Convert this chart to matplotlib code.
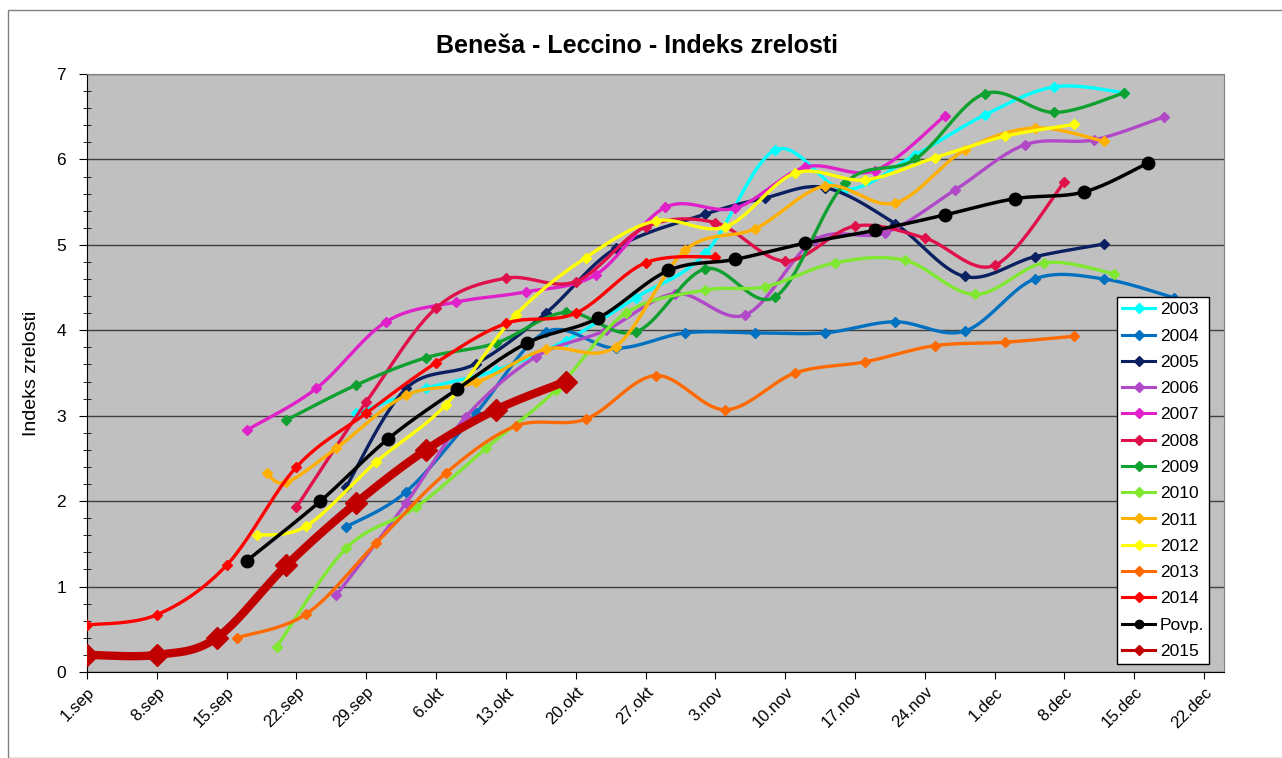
import numpy as np
import matplotlib
matplotlib.use("Agg")
import matplotlib.pyplot as plt
from matplotlib.lines import Line2D
from matplotlib.patches import Rectangle

plt.rcParams['font.family'] = ['Liberation Sans', 'DejaVu Sans']

# ---- data: x = days since 1 September, y = ripeness index ----
tick_labels = ["1.sep", "8.sep", "15.sep", "22.sep", "29.sep", "6.okt", "13.okt", "20.okt",
               "27.okt", "3.nov", "10.nov", "17.nov", "24.nov", "1.dec", "8.dec", "15.dec", "22.dec"]

x2003 = [27, 34, 41, 48, 55, 62, 69, 76, 83, 90, 97, 104]
y2003 = [3.03, 3.32, 3.53, 3.88, 4.38, 4.90, 6.11, 5.65, 6.05, 6.52, 6.85, 6.78]
x2004 = [26, 32, 39, 46, 53, 60, 67, 74, 81, 88, 95, 102, 109]
y2004 = [1.70, 2.11, 3.03, 3.98, 3.79, 3.97, 3.97, 3.97, 4.10, 3.99, 4.60, 4.60, 4.38]
x2005 = [26, 32, 39, 46, 53, 62, 68, 74, 81, 88, 95, 102]
y2005 = [2.17, 3.32, 3.61, 4.20, 4.96, 5.36, 5.55, 5.67, 5.25, 4.63, 4.86, 5.01]
x2006 = [25, 32, 38, 45, 52, 59, 66, 73, 80, 87, 94, 101, 108]
y2006 = [0.90, 1.98, 2.99, 3.69, 4.00, 4.43, 4.18, 5.06, 5.14, 5.64, 6.17, 6.23, 6.50]
x2007 = [16, 23, 30, 37, 44, 51, 58, 65, 72, 79, 86]
y2007 = [2.83, 3.32, 4.10, 4.33, 4.45, 4.65, 5.44, 5.43, 5.91, 5.87, 6.51]
x2008 = [21, 28, 35, 42, 49, 56, 63, 70, 77, 84, 91, 98]
y2008 = [1.93, 3.16, 4.26, 4.61, 4.57, 5.21, 5.26, 4.81, 5.22, 5.08, 4.76, 5.74]
x2009 = [20, 27, 34, 41, 48, 55, 62, 69, 76, 83, 90, 97, 104]
y2009 = [2.95, 3.36, 3.68, 3.85, 4.21, 3.98, 4.72, 4.39, 5.72, 6.00, 6.77, 6.55, 6.78]
x2010 = [19, 26, 33, 40, 47, 54, 62, 68, 75, 82, 89, 96, 103]
y2010 = [0.29, 1.45, 1.93, 2.62, 3.30, 4.20, 4.47, 4.51, 4.79, 4.82, 4.42, 4.79, 4.66]
x2011 = [18, 20, 25, 32, 39, 46, 53, 60, 67, 74, 81, 88, 95, 102]
y2011 = [2.33, 2.22, 2.62, 3.24, 3.39, 3.78, 3.81, 4.94, 5.19, 5.69, 5.49, 6.11, 6.37, 6.21]
x2012 = [17, 22, 29, 36, 43, 50, 57, 64, 71, 78, 85, 92, 99]
y2012 = [1.60, 1.71, 2.46, 3.13, 4.18, 4.85, 5.28, 5.21, 5.84, 5.76, 6.02, 6.27, 6.41]
x2013 = [15, 22, 29, 36, 43, 50, 57, 64, 71, 78, 85, 92, 99]
y2013 = [0.40, 0.68, 1.51, 2.33, 2.88, 2.96, 3.47, 3.07, 3.50, 3.63, 3.82, 3.86, 3.93]
x2014 = [0, 7, 14, 21, 28, 35, 42, 49, 56, 63]
y2014 = [0.55, 0.67, 1.25, 2.40, 3.03, 3.62, 4.08, 4.20, 4.79, 4.86]
x_povp = [16, 23.4, 30.2, 37.1, 44.1, 51.2, 58.3, 65, 72, 79, 86, 93, 100, 106.4]
y_povp = [1.30, 2.00, 2.73, 3.31, 3.85, 4.14, 4.70, 4.83, 5.02, 5.17, 5.35, 5.54, 5.62, 5.96]
x2015 = [0, 7, 13, 20, 27, 34, 41, 48]
y2015 = [0.20, 0.20, 0.40, 1.25, 1.98, 2.60, 3.07, 3.40]

series = [
    ("2003", x2003, y2003, "#00FFFF"),
    ("2004", x2004, y2004, "#0070C0"),
    ("2005", x2005, y2005, "#0A2060"),
    ("2006", x2006, y2006, "#B048C8"),
    ("2007", x2007, y2007, "#E020C8"),
    ("2008", x2008, y2008, "#E0104A"),
    ("2009", x2009, y2009, "#10A030"),
    ("2010", x2010, y2010, "#80E830"),
    ("2011", x2011, y2011, "#FFB000"),
    ("2012", x2012, y2012, "#FFFF00"),
    ("2013", x2013, y2013, "#FF6A00"),
    ("2014", x2014, y2014, "#FF0000"),
    ("Povp.", x_povp, y_povp, "#000000"),
    ("2015", x2015, y2015, "#C00000"),
]


def smooth(x, y, n=24):
    pts = np.column_stack([x, y]).astype(float)
    if len(pts) < 3:
        return pts[:, 0], pts[:, 1]
    P = np.vstack([pts[0], pts, pts[-1]])
    out = []
    t = np.linspace(0, 1, n)[:, None]
    for i in range(1, len(P) - 2):
        p0, p1, p2, p3 = P[i - 1], P[i], P[i + 1], P[i + 2]
        c1 = p1 + (p2 - p0) / 6.0
        c2 = p2 - (p3 - p1) / 6.0
        seg = (1 - t) ** 3 * p1 + 3 * (1 - t) ** 2 * t * c1 + 3 * (1 - t) * t ** 2 * c2 + t ** 3 * p2
        out.append(seg if i == 1 else seg[1:])
    c = np.vstack(out)
    return c[:, 0], c[:, 1]


fig = plt.figure(figsize=(12.82, 7.58), dpi=100)
fig.patches.append(Rectangle((8 / 1282, 0.0), 1.0, 1 - 10 / 758, transform=fig.transFigure,
                             fill=False, edgecolor="#808080", linewidth=1.0))
ax = fig.add_axes([87 / 1282, 1 - 672 / 758, (1224 - 87) / 1282, (672 - 74) / 758])
ax.set_facecolor("#C0C0C0")

handles = []
for name, xs, ys, col in series:
    sx, sy = smooth(xs, ys)
    if name == "2015":
        lw, mk, ms = 6.0, "D", 11
    elif name == "Povp.":
        lw, mk, ms = 2.5, "o", 9
    else:
        lw, mk, ms = 2.4, "D", 5
    ax.plot(sx, sy, color=col, lw=lw, solid_capstyle="round", zorder=3)
    ax.plot(xs, ys, linestyle="none", marker=mk, markersize=ms, color=col,
            markeredgecolor=col, zorder=3)
    handles.append(Line2D([], [], color=col, lw=2.2, marker="o" if name == "Povp." else "D",
                          markersize=6 if name == "Povp." else 5, label=name))

ax.set_xlim(0, 114)
ax.set_ylim(0, 7)
ax.set_xticks(np.arange(0, 113, 7))
ax.set_xticklabels(tick_labels, rotation=45, ha="right", rotation_mode="anchor", fontsize=12)
ax.set_yticks(np.arange(0, 8, 1))
ax.set_yticks(np.arange(0, 7.01, 0.2), minor=True)
ax.tick_params(axis="y", which="major", direction="out", length=6, labelsize=12.5, pad=9)
ax.tick_params(axis="y", which="minor", direction="inout", length=6)
ax.tick_params(axis="x", which="major", direction="out", length=5, pad=4)
ax.grid(axis="y", which="major", color="#404040", linewidth=1.0, zorder=1)
ax.set_axisbelow(True)
for s in ["top", "right"]:
    ax.spines[s].set_color("#808080")
ax.spines["left"].set_color("black")
ax.spines["bottom"].set_color("black")

ax.set_ylabel("Indeks zrelosti", fontsize=14, labelpad=12)
fig.text(0.497, 1 - 46 / 758, "Beneša - Leccino - Indeks zrelosti", ha="center", va="center",
         fontsize=18, fontweight="bold")

leg = ax.legend(handles=handles, loc="upper left", bbox_to_anchor=(0.906, 0.627),
                fontsize=12.5, frameon=True, fancybox=False, edgecolor="black",
                framealpha=1.0, borderaxespad=0, handlelength=1.9, handletextpad=0.25,
                labelspacing=0.64, borderpad=0.3)
leg.get_frame().set_linewidth(1.0)
leg.set_zorder(5)

fig.savefig("out.png", dpi=100)
